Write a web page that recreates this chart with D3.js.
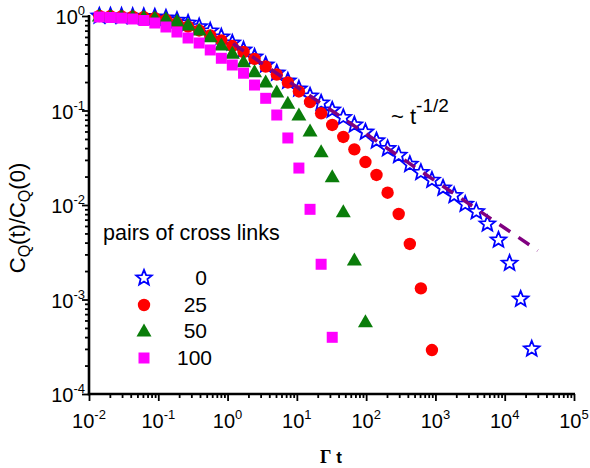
<!DOCTYPE html>
<html><head><meta charset="utf-8">
<script src="https://cdn.jsdelivr.net/npm/d3@7"></script>
<style>
body{margin:0;background:#fff}
svg{display:block}
text{font-family:"Liberation Sans",Arial,Helvetica,sans-serif;fill:#000}
</style>
</head><body>
<svg id="chart" width="590" height="468"></svg>
<script>
// ---- data ----
const timeGrid = [0.0141, 0.0204, 0.0295, 0.0427, 0.0617, 0.0891, 0.129, 0.186, 0.269, 0.389,
  0.562, 0.813, 1.17, 1.70, 2.45, 3.55, 5.13, 7.41, 10.7, 15.5,
  22.4, 32.4, 46.8, 67.6, 97.7, 141, 204, 295, 427, 617,
  891, 1288, 1862, 2692, 3890, 5623, 8128, 11749, 16982, 24547];
const links0 = [1.0, 1.0, 0.995, 0.99, 0.985, 0.975, 0.95, 0.9, 0.84, 0.77,
  0.694, 0.60, 0.518, 0.437, 0.368, 0.303, 0.249, 0.205, 0.169, 0.142,
  0.12, 0.101, 0.0843, 0.0704, 0.0591, 0.0478, 0.0395, 0.0335, 0.0269, 0.0221,
  0.0183, 0.0151, 0.0126, 0.0102, 0.0085, 0.0063, 0.00426, 0.00242, 0.00101, 0.0003];
const links25 = [1.0, 0.995, 0.99, 0.985, 0.97, 0.95, 0.907, 0.843, 0.774, 0.703,
  0.622, 0.551, 0.481, 0.416, 0.351, 0.292, 0.240, 0.198, 0.159, 0.123,
  0.0934, 0.0703, 0.0525, 0.0388, 0.0285, 0.0208, 0.0135, 0.00803, 0.00387, 0.00131,
  0.000292];
const links50 = [1.0, 0.995, 0.99, 0.985, 0.975, 0.96, 0.935, 0.885, 0.803, 0.711,
  0.604, 0.493, 0.403, 0.328, 0.257, 0.200, 0.157, 0.119, 0.0896, 0.0607,
  0.0366, 0.0199, 0.0085, 0.00262, 0.000582];
const links100 = [0.976, 0.964, 0.95, 0.93, 0.896, 0.843, 0.765, 0.677, 0.585, 0.518,
  0.437, 0.357, 0.303, 0.248, 0.186, 0.1346, 0.0896, 0.0512, 0.0246, 0.0090,
  0.00236, 0.000398];
const fitT = [1.2, 30000];
const fitC = [0.51, 0.0033];
const legendTitle = "pairs of cross links";
const legendLabels = ["0", "25", "50", "100"];
const xTickExps = [-2, -1, 0, 1, 2, 3, 4, 5];
const yTickExps = [0, -1, -2, -3, -4];
const fitLabel = ["~ t", "-1/2"];

// ---- drawing ----
const svg = d3.select("#chart");
const x = d3.scaleLog().domain([1e-2, 1e5]).range([89, 574]);
const y = d3.scaleLog().domain([1e-4, 1]).range([394, 16]);

function minors(lo, hi) {
  const out = [];
  for (let e = lo; e < hi; e++) for (let m = 2; m <= 9; m++) out.push(m * Math.pow(10, e));
  return out;
}

// axes ticks
const gx = svg.append("g").attr("transform", "translate(0,394)");
gx.append("g").call(d3.axisBottom(x).tickValues(xTickExps.map(e => Math.pow(10, e))).tickSize(7).tickSizeOuter(0).tickFormat(""));
gx.append("g").call(d3.axisBottom(x).tickValues(minors(-2, 5)).tickSize(4).tickSizeOuter(0).tickFormat(""));
const gy = svg.append("g").attr("transform", "translate(89,0)");
gy.append("g").call(d3.axisLeft(y).tickValues(yTickExps.map(e => Math.pow(10, e))).tickSize(7).tickSizeOuter(0).tickFormat(""));
gy.append("g").call(d3.axisLeft(y).tickValues(minors(-4, 0)).tickSize(4).tickSizeOuter(0).tickFormat(""));
svg.selectAll(".domain").remove();
svg.selectAll(".tick line").attr("stroke", "#000").attr("stroke-width", 1.8);
svg.append("line").attr("x1", 89).attr("x2", 89).attr("y1", y(1) - 1).attr("y2", y(1e-4) + 1.2)
  .attr("stroke", "#000").attr("stroke-width", 2.6);
svg.append("line").attr("x1", x(1e-2) - 1.2).attr("x2", x(1e5) + 1).attr("y1", 394).attr("y2", 394)
  .attr("stroke", "#000").attr("stroke-width", 2.6);

// tick labels
xTickExps.forEach(e => {
  const t = svg.append("text").attr("x", x(Math.pow(10, e))).attr("y", 428)
    .attr("text-anchor", "middle").style("font-size", "20px");
  t.append("tspan").text("10");
  t.append("tspan").attr("dy", -9).style("font-size", "13px").text(e);
});
yTickExps.forEach(e => {
  const t = svg.append("text").attr("x", 85).attr("y", y(Math.pow(10, e)) + 8)
    .attr("text-anchor", "end").style("font-size", "20px");
  t.append("tspan").text("10");
  t.append("tspan").attr("dy", -9).style("font-size", "13px").text(e);
});

// axis titles
const xt = svg.append("text").attr("x", 331).attr("y", 463).attr("text-anchor", "middle")
  .style("font-size", "17px").style("font-weight", "bold");
xt.append("tspan").style("font-family", "'Liberation Serif','Times New Roman',serif").style("font-size", "18px").text("Γ");
xt.append("tspan").text("  t");
const yt = svg.append("text").attr("transform", "translate(25,218) rotate(-90)").attr("text-anchor", "middle")
  .style("font-size", "22px");
yt.append("tspan").text("C");
yt.append("tspan").attr("dy", 5).style("font-size", "16px").text("Q");
yt.append("tspan").attr("dy", -5).text("(t)/C");
yt.append("tspan").attr("dy", 5).style("font-size", "16px").text("Q");
yt.append("tspan").attr("dy", -5).text("(0)");

// marker generators
function starPath(R, r) {
  const pts = [];
  for (let i = 0; i < 10; i++) {
    const a = -Math.PI / 2 + i * Math.PI / 5;
    const rad = i % 2 === 0 ? R : r;
    pts.push([rad * Math.cos(a), rad * Math.sin(a)]);
  }
  return "M" + pts.map(p => p[0].toFixed(2) + "," + p[1].toFixed(2)).join("L") + "Z";
}
const styles = [
  {d: starPath(8.2, 3.6), fill: "#fff", stroke: "#0000ff", sw: 1.8},
  {d: d3.symbol(d3.symbolCircle, Math.PI * 6.2 * 6.2)(), fill: "#ff0000", stroke: "none", sw: 0},
  {d: "M0,-7.5L7.5,5.5L-7.5,5.5Z", fill: "#0a7d0a", stroke: "none", sw: 0},
  {d: "M-5.5,-5.5H5.5V5.5H-5.5Z", fill: "#ff00ff", stroke: "none", sw: 0}
];
const seriesList = [links0, links25, links50, links100];

seriesList.forEach((vals, si) => {
  const st = styles[si];
  svg.append("g").selectAll("path").data(vals).join("path")
    .attr("d", st.d)
    .attr("transform", (v, i) => `translate(${x(timeGrid[i])},${y(v)})`)
    .attr("fill", st.fill).attr("stroke", st.stroke).attr("stroke-width", st.sw)
    .attr("stroke-linejoin", "miter");
});

// power-law guide
svg.append("path")
  .datum(fitT.map((t, i) => [t, fitC[i]]))
  .attr("d", d3.line().x(d => x(d[0])).y(d => y(d[1])))
  .attr("fill", "none").attr("stroke", "#800080").attr("stroke-width", 3.5)
  .attr("stroke-dasharray", "13,10");

const fl = svg.append("text").attr("x", 391).attr("y", 124).style("font-size", "22px");
fl.append("tspan").text(fitLabel[0]);
fl.append("tspan").attr("dy", -12).style("font-size", "19px").text(fitLabel[1]);

// legend
svg.append("text").attr("x", 103).attr("y", 240).style("font-size", "21.5px").text(legendTitle);
const legY = [278, 305, 331, 358];
const legEnd = [207, 207, 207, 212];
legendLabels.forEach((lab, i) => {
  const st = styles[i];
  svg.append("path").attr("d", st.d).attr("transform", `translate(144,${legY[i]})`)
    .attr("fill", st.fill).attr("stroke", st.stroke).attr("stroke-width", st.sw);
  svg.append("text").attr("x", legEnd[i]).attr("y", legY[i] + 7).attr("text-anchor", "end")
    .style("font-size", "21px").text(lab);
});
</script>
</body></html>
